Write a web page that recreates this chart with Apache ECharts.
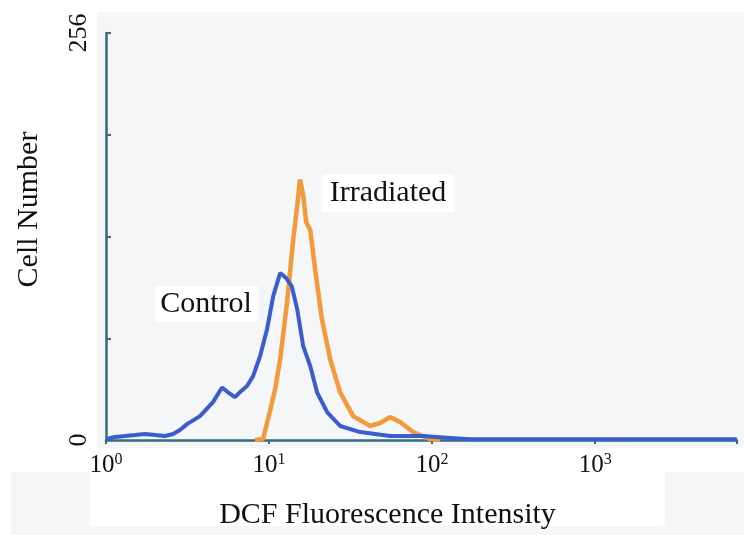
<!DOCTYPE html>
<html>
<head>
<meta charset="utf-8">
<script src="https://cdn.jsdelivr.net/npm/echarts@6/dist/echarts.min.js"></script>
<style>
  html, body { margin: 0; padding: 0; background: #ffffff; }
  #main { width: 744px; height: 535px; }
</style>
</head>
<body>
<div id="main"></div>
<script>
// DCF fluorescence histograms
const controlX = [1.01, 1.135, 1.31, 1.51, 1.74, 2.0, 2.3, 2.58, 2.84, 3.14, 3.77, 4.53, 5.15, 5.6, 6.18, 6.73, 7.33, 7.97, 8.81, 9.72, 10.6, 11.7, 12.7, 13.8, 14.9, 16.2, 17.9, 19.7, 22.7, 27.3, 36.2, 55.2, 88, 129, 171, 7400];
const controlY = [0.6, 1.9, 2.5, 3.1, 3.8, 3.1, 2.5, 3.8, 6.3, 10, 15, 23.8, 33, 30, 27, 30.7, 34, 40, 52.7, 69.7, 90.4, 105, 102, 96.6, 82, 59, 46.4, 30, 17.6, 8.8, 5, 2.5, 2.5, 1.3, 0.4, 0.4];

const irradX = [8.2, 9.19, 10.1, 10.9, 11.7, 12.9, 14.0, 14.9, 15.5, 16.2, 16.9, 17.9, 19.2, 21.1, 23.7, 27.3, 32.8, 41.7, 48, 55.2, 63.6, 76.4, 97.2, 112];
const irradY = [0, 0.6, 17.6, 32, 50.8, 86.6, 124, 148, 163.8, 154, 137, 132, 107, 76, 50.8, 30, 15, 8.8, 10.7, 14.4, 11.3, 5, 0.6, 0];

const xTickPowers = [0, 1, 2, 3];
const yTickLabels = [0, 256];

const serif = '"Liberation Serif", "DejaVu Serif", serif';

const chart = echarts.init(document.getElementById('main'));

const pairs = (xs, ys) => xs.map((x, i) => [x, ys[i]]);

chart.setOption({
    animation: false,
    backgroundColor: '#ffffff',
    graphic: [
        { type: 'rect', z: -10, shape: { x: 97, y: 12, width: 647, height: 436 }, style: { fill: '#f4f6f8' } },
        { type: 'rect', z: -10, shape: { x: 11, y: 472, width: 733, height: 63 }, style: { fill: '#f4f6f8' } },
        { type: 'rect', z: -9, shape: { x: 90, y: 448, width: 575, height: 78 }, style: { fill: '#ffffff' } },
        {
            type: 'text', z: 50, x: 206, y: 304,
            style: {
                text: 'Control', font: '30px ' + serif, fill: '#111',
                align: 'center', verticalAlign: 'middle',
                backgroundColor: '#ffffff', padding: [3, 6, 3, 6]
            }
        },
        {
            type: 'text', z: 50, x: 388, y: 193,
            style: {
                text: 'Irradiated', font: '30px ' + serif, fill: '#111',
                align: 'center', verticalAlign: 'middle',
                backgroundColor: '#ffffff', padding: [4, 8, 4, 8]
            }
        }
    ],
    grid: { left: 106, right: 7, top: 33, bottom: 94 },
    xAxis: {
        type: 'log',
        logBase: 10,
        min: 1,
        max: 7413,
        name: 'DCF Fluorescence Intensity',
        nameLocation: 'middle',
        nameGap: 60,
        nameTextStyle: { fontFamily: serif, fontSize: 30, color: '#111', padding: [0, 68, 0, 0] },
        axisLine: { lineStyle: { color: '#356b7d', width: 2.5 } },
        axisTick: { show: true, length: 4, lineStyle: { color: '#356b7d', width: 2 } },
        splitLine: { show: false },
        minorTick: { show: false },
        axisLabel: {
            margin: 12,
            formatter: function (v) {
                const p = Math.round(Math.log10(v));
                if (Math.abs(Math.log10(v) - p) > 1e-6 || xTickPowers.indexOf(p) < 0) return '';
                return '{b|10}{s|' + p + '}';
            },
            rich: {
                b: { fontFamily: serif, fontSize: 25, color: '#111', lineHeight: 26 },
                s: { fontFamily: serif, fontSize: 16, color: '#111', lineHeight: 16, verticalAlign: 'top' }
            }
        }
    },
    yAxis: {
        type: 'value',
        min: 0,
        max: 256,
        interval: 64,
        name: 'Cell Number',
        nameLocation: 'middle',
        nameGap: 62,
        nameTextStyle: { fontFamily: serif, fontSize: 30, color: '#111', padding: [0, 0, 0, 54] },
        axisLine: { show: true, lineStyle: { color: '#356b7d', width: 2.5 } },
        axisTick: { show: true, inside: true, length: 5, lineStyle: { color: '#356b7d', width: 2 } },
        splitLine: { show: false },
        axisLabel: {
            rotate: 90,
            margin: 14,
            fontFamily: serif,
            fontSize: 26,
            color: '#111',
            formatter: function (v) {
                return yTickLabels.indexOf(v) >= 0 ? String(v) : '';
            }
        }
    },
    series: [
        {
            name: 'Irradiated',
            type: 'line',
            data: pairs(irradX, irradY),
            showSymbol: false,
            lineStyle: { color: '#f39a3c', width: 4.5 },
            z: 3
        },
        {
            name: 'Control',
            type: 'line',
            data: pairs(controlX, controlY),
            showSymbol: false,
            lineStyle: { color: '#3a5ccc', width: 4 },
            z: 4
        }
    ]
});
</script>
</body>
</html>
